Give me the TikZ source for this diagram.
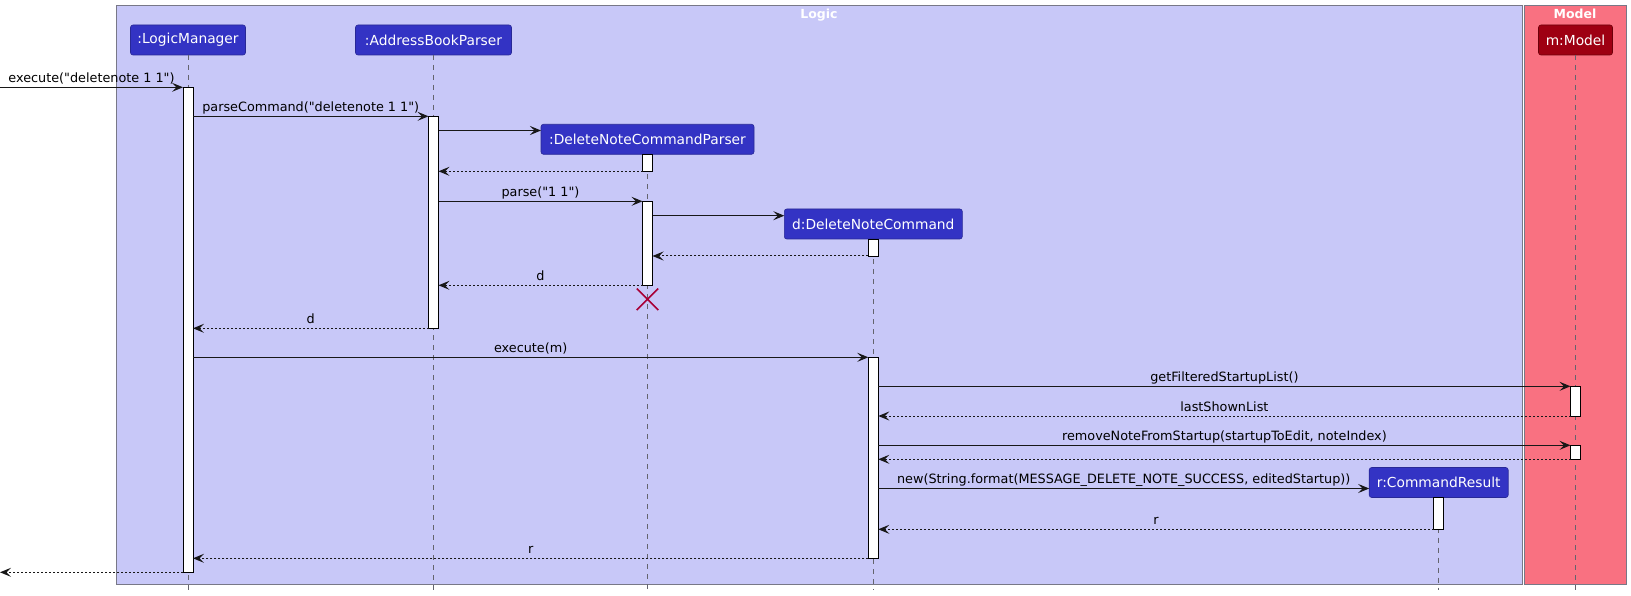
\documentclass[tikz,border=0pt]{standalone}
\usepackage{fontspec}
\setmainfont{DejaVu Sans}[Ligatures=TeXOff]
\usetikzlibrary{arrows.meta,shapes.misc}
\definecolor{logicbg}{RGB}{200,200,248}
\definecolor{modelbg}{RGB}{249,113,129}
\definecolor{grpline}{RGB}{120,120,135}
\definecolor{partblue}{RGB}{51,51,196}
\definecolor{partblueline}{RGB}{40,40,150}
\definecolor{partred}{RGB}{158,0,18}
\definecolor{partredline}{RGB}{110,0,10}
\definecolor{xred}{RGB}{168,0,54}
\definecolor{lifegray}{RGB}{100,100,110}
\definecolor{msgcol}{RGB}{24,24,24}
\tikzset{
 part/.style={rectangle, rounded corners=2.5pt, fill=partblue, draw=partblueline, line width=0.6pt, text=white, minimum height=30pt, inner sep=0pt, outer sep=0pt, font=\fontsize{13.8}{16}\selectfont},
 act/.style={rectangle, fill=white, draw=black, line width=0.9pt, minimum width=10pt, inner sep=0pt, outer sep=0pt, anchor=north},
 life/.style={draw=lifegray, line width=0.7pt, dash pattern=on 5pt off 5pt},
 msg/.style={draw=msgcol, line width=1pt, -{Stealth[length=11pt,width=9pt,inset=4.5pt]}},
 ret/.style={msg, dash pattern=on 2pt off 2pt},
 lbl/.style={font=\fontsize{12.8}{14}\selectfont, text=black, inner sep=0pt, anchor=base, yshift=5pt, midway},
 grp/.style={rectangle, draw=grpline, line width=1pt, inner sep=0pt, outer sep=0pt, anchor=north west},
 gtitle/.style={text=white, font=\bfseries\fontsize{12.5}{14}\selectfont, inner sep=0pt, anchor=base},
 destroyx/.style={cross out, draw=xred, line width=1.5pt, minimum size=20pt, inner sep=0pt},
}
\begin{document}
\begin{tikzpicture}[x=1pt,y=-1pt]
\useasboundingbox (0,0) rectangle (1631,596);
% group boxes
\node[grp, fill=logicbg, minimum width=1405.5pt, minimum height=578.3pt] (logic) at (116.5,6) {};
\node[grp, fill=modelbg, minimum width=102pt, minimum height=578.3pt] (model) at (1524,6) {};
\node[gtitle] (logict) at (819,18.3) {Logic};
\node[gtitle] (modelt) at (1575,18.3) {Model};
% participants
\node[part, minimum width=115pt] (lm) at (188,40) {:LogicManager};
\node[part, minimum width=156pt] (abp) at (433.5,40) {:AddressBookParser};
\node[part, minimum width=213pt] (dncp) at (647.5,139.3) {:DeleteNoteCommandParser};
\node[part, minimum width=178pt] (dnc) at (873.3,224) {d:DeleteNoteCommand};
\node[part, minimum width=74pt, fill=partred, draw=partredline] (m) at (1575.5,40) {m:Model};
\node[part, minimum width=139pt] (cr) at (1438.7,482.5) {r:CommandResult};
% lifelines
\coordinate (bot) at (0,590);
\foreach \p in {lm,abp,dncp,dnc,m,cr}{\draw[life] (\p.south) -- (\p.south |- bot);}
% activations
\node[act, minimum height=485pt] (lm1) at (188,87.3) {};
\node[act, minimum height=212pt] (abp1) at (433.5,116.3) {};
\node[act, minimum height=17pt] (dncp1) at (647.5,154.3) {};
\node[act, minimum height=84pt] (dncp2) at (647.5,201.3) {};
\node[act, minimum height=17pt] (dnc1) at (873.3,239) {};
\node[act, minimum height=201pt] (dnc2) at (873.3,357.3) {};
\node[act, minimum height=29.7pt] (m1) at (1575.5,386.3) {};
\node[act, minimum height=14pt] (m2) at (1575.5,445.3) {};
\node[act, minimum height=31.6pt] (cr1) at (1438.7,497.7) {};
% free ends
\coordinate (entry) at (0,87.3);
\coordinate (exitpt) at (0,572.3);
\coordinate (c1) at ([yshift=-6.2pt]dncp.north west);
\coordinate (c2) at ([yshift=-6.7pt]dnc.north west);
\coordinate (c3) at ([yshift=-21pt]cr.north west);
% messages
\draw[msg] (entry) -- node[lbl]{execute("deletenote 1 1")} (lm1.north west);
\draw[msg] (lm1.east |- abp1.north) -- node[lbl]{parseCommand("deletenote 1 1")} (abp1.north west);
\draw[msg] (abp1.east |- c1) -- (c1);
\draw[ret] (dncp1.south west) -- (abp1.east |- dncp1.south);
\draw[msg] (abp1.east |- dncp2.north) -- node[lbl]{parse("1 1")} (dncp2.north west);
\draw[msg] (dncp2.east |- c2) -- (c2);
\draw[ret] (dnc1.south west) -- (dncp2.east |- dnc1.south);
\draw[ret] (dncp2.south west) -- node[lbl]{d} (abp1.east |- dncp2.south);
\node[destroyx] (dx) at (647.5,299.3) {};
\draw[ret] (abp1.south west) -- node[lbl]{d} (lm1.east |- abp1.south);
\draw[msg] (lm1.east |- dnc2.north) -- node[lbl]{execute(m)} (dnc2.north west);
\draw[msg] (dnc2.east |- m1.north) -- node[lbl]{getFilteredStartupList()} (m1.north west);
\draw[ret] (m1.south west) -- node[lbl]{lastShownList} (dnc2.east |- m1.south);
\draw[msg] (dnc2.east |- m2.north) -- node[lbl]{removeNoteFromStartup(startupToEdit, noteIndex)} (m2.north west);
\draw[ret] (m2.south west) -- (dnc2.east |- m2.south);
\draw[msg] (dnc2.east |- c3) -- node[lbl]{new(String.format(MESSAGE\_DELETE\_NOTE\_SUCCESS, editedStartup))} (c3);
\draw[ret] (cr1.south west) -- node[lbl]{r} (dnc2.east |- cr1.south);
\draw[ret] (dnc2.south west) -- node[lbl]{r} (lm1.east |- dnc2.south);
\draw[ret] (lm1.south west) -- (exitpt |- lm1.south);
\end{tikzpicture}
\end{document}
